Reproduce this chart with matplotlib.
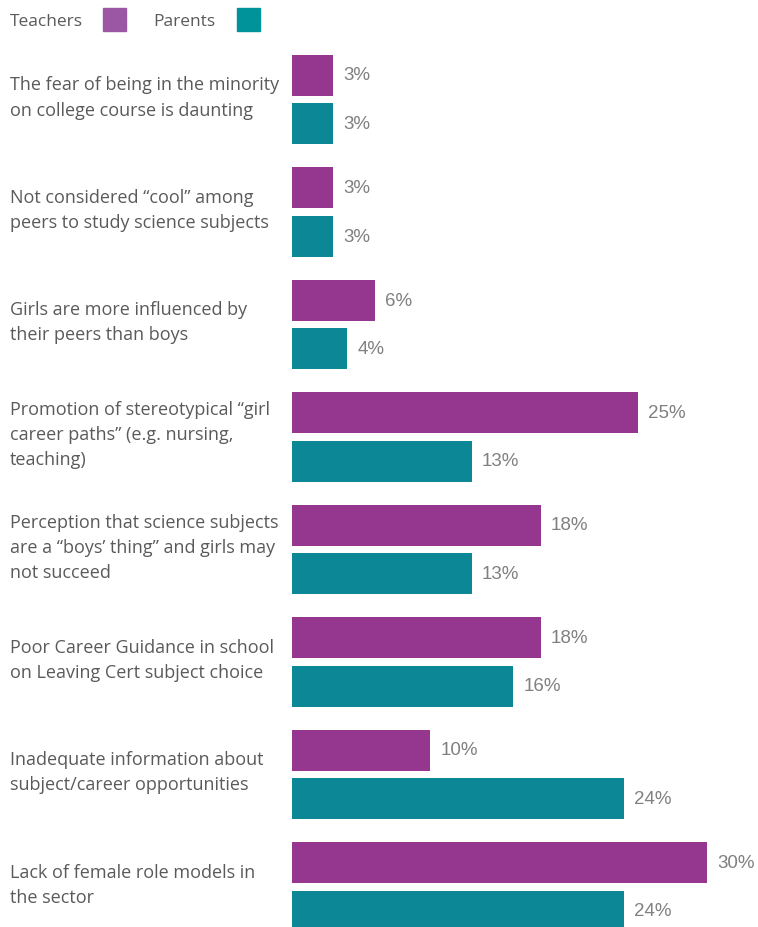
import matplotlib.pyplot as plt
from matplotlib.patches import Rectangle

# survey results (% of respondents)
reasons = [
    'The fear of being in the minority\non college course is daunting',
    'Not considered \u201ccool\u201d among\npeers to study science subjects',
    'Girls are more influenced by\ntheir peers than boys',
    'Promotion of stereotypical \u201cgirl\ncareer paths\u201d (e.g. nursing,\nteaching)',
    'Perception that science subjects\nare a \u201cboys\u2019 thing\u201d and girls may\nnot succeed',
    'Poor Career Guidance in school\non Leaving Cert subject choice',
    'Inadequate information about\nsubject/career opportunities',
    'Lack of female role models in\nthe sector',
]
teachers = [3, 3, 6, 25, 18, 18, 10, 30]
parents = [3, 3, 4, 13, 13, 16, 24, 24]

TEACH_COL = '#95368f'
PARENT_COL = '#0b8796'
TEXT_COL = '#5a5a5a'
VAL_COL = '#808080'

W, H = 758, 928
fig = plt.figure(figsize=(W / 100, H / 100), dpi=100)

# axes: bars start at x=292px, 13.83px per percent
px_per_pct = 13.83
xmax = 33
ax = fig.add_axes([292 / W, 0, xmax * px_per_pct / W, 1])
ax.set_xlim(0, xmax)
# one unit per group (112.5px), first teacher bar centred at 76px
unit = 112.5
ax.set_ylim((H - 76) / unit, -76 / unit)
ax.axis('off')

bar_h = 41 / unit
off = 48.5 / unit
for i in range(len(reasons)):
    ax.barh(i, teachers[i], height=bar_h, color=TEACH_COL)
    ax.barh(i + off, parents[i], height=bar_h, color=PARENT_COL)
    ax.text(teachers[i] + 0.72, i, f'{teachers[i]}%', va='center', ha='left',
            fontsize=13.5, color=VAL_COL, family='Liberation Sans', clip_on=False)
    ax.text(parents[i] + 0.72, i + off, f'{parents[i]}%', va='center', ha='left',
            fontsize=13.5, color=VAL_COL, family='Liberation Sans', clip_on=False)
    fig.text(10 / W, 1 - (76 + 22 + i * unit) / H, reasons[i], va='center', ha='left',
             fontsize=13, color=TEXT_COL, family='Open Sans', linespacing=1.5)

# legend along the top
fig.text(10 / W, 1 - 22 / H, 'Teachers', va='center', ha='left',
         fontsize=12.5, color=TEXT_COL, family='Open Sans')
fig.text(153 / W, 1 - 22 / H, 'Parents', va='center', ha='left',
         fontsize=12.5, color=TEXT_COL, family='Open Sans')
fig.patches.append(Rectangle((103 / W, 1 - 32 / H), 23 / W, 23 / H,
                             transform=fig.transFigure, color='#9b57a3'))
fig.patches.append(Rectangle((237 / W, 1 - 32 / H), 23 / W, 23 / H,
                             transform=fig.transFigure, color='#00939a'))

fig.savefig('out.png', dpi=100)
